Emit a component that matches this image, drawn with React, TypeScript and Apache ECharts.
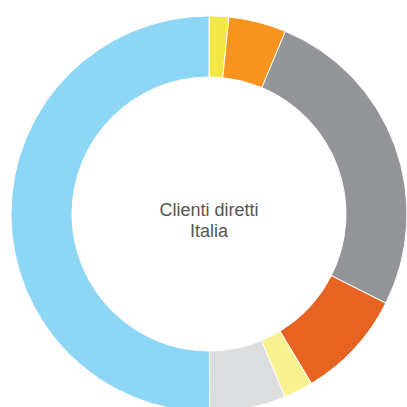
import React, { useEffect, useRef } from "react";
import * as echarts from "echarts";

const categories = ["A", "B", "C", "D", "E", "F", "G"];
const values = [1.6, 4.7, 26.1, 8.9, 2.4, 6.2, 50];
const colors = ["#f3e843", "#f7941e", "#939598", "#e66322", "#f7f18f", "#dcdddf", "#8ed6f5"];
const centerLabel = "Clienti diretti\nItalia";

export default function App() {
  const ref = useRef<HTMLDivElement>(null);
  useEffect(() => {
    if (!ref.current) return;
    const chart = echarts.init(ref.current, null, { renderer: "svg" });
    chart.setOption({
      animation: false,
      backgroundColor: "#ffffff",
      series: [
        {
          type: "pie",
          center: [209, 214],
          radius: [137, 198],
          startAngle: 90,
          clockwise: true,
          label: { show: false },
          labelLine: { show: false },
          silent: true,
          itemStyle: { borderColor: "#ffffff", borderWidth: 1 },
          data: categories.map((c, i) => ({
            name: c,
            value: values[i],
            itemStyle: { color: colors[i] },
          })),
        },
      ],
      graphic: [
        {
          type: "text",
          x: 209,
          y: 220,
          style: {
            text: centerLabel,
            fill: "#555555",
            font: "18px 'Liberation Sans', Arial, sans-serif",
            lineHeight: 21,
            align: "center",
            verticalAlign: "middle",
          },
        },
      ],
    });
    return () => chart.dispose();
  }, []);
  return (
    <div
      ref={ref}
      style={{ position: "absolute", left: 0, top: 0, width: 407, height: 407 }}
    />
  );
}
